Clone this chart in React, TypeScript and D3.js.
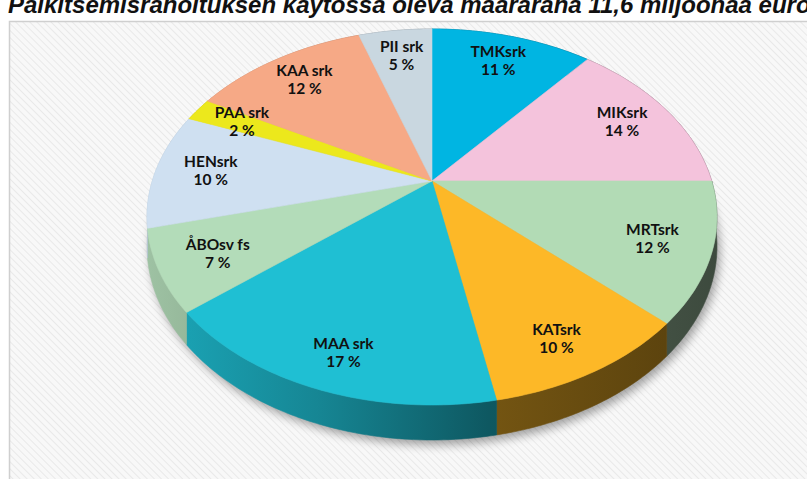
import React from 'react';
import * as d3 from 'd3';

// shares of the 11,6 M€ budget, clockwise from 12 o'clock
const names = ['TMKsrk', 'MIKsrk', 'MRTsrk', 'KATsrk', 'MAA srk', 'ÅBOsv fs', 'HENsrk', 'PAA srk', 'KAA srk', 'PII srk'];
const shares = [11, 14, 12, 10, 17, 7, 10, 2, 12, 5];
const colors = ['#00b5e2', '#f4c3dc', '#b2dbb5', '#fdb827', '#1fbfd3', '#b3dcb9', '#cfe0f1', '#ece81c', '#f6a986', '#c9d7e0'];
const title = 'Palkitsemisrahoituksen käytössä oleva määräraha 11,6 miljoonaa euroa';

const W = 807;
const H = 479;

// perspective projection of the pie disc
const cx = 432;
const cy = 181;
const k = -0.1915;     // perspective strength (front is bigger)
const A = 181.1;       // vertical radius factor
const B = 279.7;       // horizontal radius factor
const depth = 28.3;    // thickness of the pie

const proj = (theta: number, r: number, h = 0): [number, number] => {
  const u = r * Math.sin(theta);
  const v = -r * Math.cos(theta);
  const den = 1 + k * v;
  return [cx + (B * u) / den, cy + (A * v + h) / den];
};

const arcPoints = (a0: number, a1: number, h: number) => {
  const n = Math.max(2, Math.ceil(((a1 - a0) * 180) / Math.PI));
  return d3.range(n + 1).map(i => proj(a0 + ((a1 - a0) * i) / n, 1, h));
};

const line = d3.line();

const shade = (c: string, f: number) => {
  const rgb = d3.rgb(c);
  return d3.rgb(rgb.r * f, rgb.g * f, rgb.b * f).formatHex();
};

const App: React.FC = () => {
  const arcs = d3.pie<number>().sort(null).startAngle(0).endAngle(2 * Math.PI)(shares);

  const leftX = cx - 285;
  const rightX = cx + 285;

  const shadowPts = arcPoints(0, 2 * Math.PI, depth).map(([x, y]) => [x + 3, y + 5] as [number, number]);

  return (
    <svg width={W} height={H} style={{ position: 'absolute', left: 0, top: 0, display: 'block' }}>
      <defs>
        <pattern id="hatch" width="5" height="5" patternUnits="userSpaceOnUse" patternTransform="rotate(-45)">
          <rect width="5" height="5" fill="#f8f8f8" />
          <line x1="0" y1="0" x2="0" y2="5" stroke="#e9e9e9" strokeWidth="2" />
        </pattern>
        <filter id="pieShadow" x="-20%" y="-20%" width="140%" height="140%">
          <feGaussianBlur stdDeviation="5" />
        </filter>
        {arcs.map((a, i) => (
          <linearGradient key={i} id={`wall-${i}`} gradientUnits="userSpaceOnUse" x1={leftX} y1="0" x2={rightX} y2="0">
            <stop offset="0" stopColor={shade(colors[i], 0.88)} />
            <stop offset="0.3" stopColor={shade(colors[i], 0.7)} />
            <stop offset="0.6" stopColor={shade(colors[i], 0.46)} />
            <stop offset="1" stopColor={shade(colors[i], 0.34)} />
          </linearGradient>
        ))}
      </defs>

      <rect x={0} y={0} width={W} height={H} fill="#ffffff" />
      <rect x={9.5} y={21.5} width={W} height={H} fill="url(#hatch)" stroke="#cfcfcf" strokeWidth={1.5} />

      <text x={8} y={13} fontFamily="'Liberation Sans', Arial, sans-serif" fontSize={24} fontWeight="bold" fontStyle="italic" fill="#111">
        {title}
      </text>

      {/* soft shadow under the pie */}
      <path d={line(shadowPts) + 'Z'} fill="#000" opacity={0.35} filter="url(#pieShadow)" />

      {/* outer walls, covered by the top faces where hidden */}
      {arcs.map((a, i) => {
        const top = arcPoints(a.startAngle, a.endAngle, 0);
        const bottom = arcPoints(a.startAngle, a.endAngle, depth).reverse();
        return (
          <path key={`w${i}`} d={line([...top, ...bottom]) + 'Z'} fill={`url(#wall-${i})`} stroke={`url(#wall-${i})`} strokeWidth={0.6} />
        );
      })}

      {/* top faces */}
      {arcs.map((a, i) => {
        const pts = [proj(0, 0), ...arcPoints(a.startAngle, a.endAngle, 0)];
        return <path key={`t${i}`} d={line(pts) + 'Z'} fill={colors[i]} stroke={colors[i]} strokeWidth={0.6} strokeLinejoin="round" />;
      })}

      {/* labels */}
      {arcs.map((a, i) => {
        const mid = (a.startAngle + a.endAngle) / 2;
        const [x, y0] = proj(mid, 0.8);
        const front = Math.max(0, -Math.cos(mid));
        const y = y0 + 16 * front * front;
        return (
          <g key={`l${i}`} fontFamily="Lato, 'Open Sans', sans-serif" fontWeight="bold" fontSize={15.5} fill="#111" textAnchor="middle">
            <text x={x} y={y - 9} dominantBaseline="middle">{names[i]}</text>
            <text x={x} y={y + 9} dominantBaseline="middle">{`${shares[i]} %`}</text>
          </g>
        );
      })}
    </svg>
  );
};

export default App;
